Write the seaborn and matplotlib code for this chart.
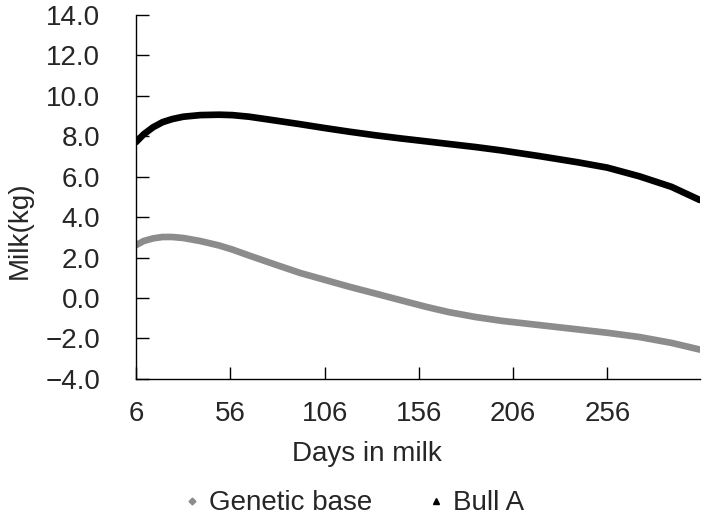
import numpy as np
import pandas as pd
import matplotlib
matplotlib.use("Agg")
import matplotlib.pyplot as plt
import seaborn as sns
from matplotlib.lines import Line2D

# values
days = [6, 10, 15, 20, 25, 31, 40, 50, 57, 66, 80, 93, 106, 119, 133, 146, 160, 172,
        186, 200, 220, 240, 256, 273, 290, 305]
genetic_base = [2.62, 2.82, 2.95, 3.02, 3.02, 2.97, 2.82, 2.6, 2.4, 2.1, 1.65, 1.24, 0.9,
                0.56, 0.22, -0.1, -0.44, -0.7, -0.94, -1.13, -1.34, -1.55, -1.72, -1.93,
                -2.22, -2.55]
bull_a = [7.72, 8.1, 8.45, 8.7, 8.85, 8.97, 9.05, 9.07, 9.05, 8.97, 8.78, 8.6, 8.41, 8.23,
          8.05, 7.9, 7.75, 7.62, 7.47, 7.3, 7.02, 6.72, 6.45, 6.02, 5.5, 4.85]
x_ticks = [6, 56, 106, 156, 206, 256]
y_ticks = np.arange(-4, 15, 2)

df = pd.DataFrame({"day": days, "Genetic base": genetic_base, "Bull A": bull_a})
long_df = df.melt(id_vars="day", var_name="series", value_name="milk")

sns.set_style("white", {"xtick.direction": "in", "ytick.direction": "in",
                        "xtick.bottom": True, "ytick.left": True})
plt.rcParams["font.family"] = ["Liberation Sans", "DejaVu Sans"]
plt.rcParams["xtick.direction"] = "in"
plt.rcParams["ytick.direction"] = "in"

fig = plt.figure(figsize=(7.09, 5.19), dpi=100)
ax = fig.add_axes([0.192, 0.27, 0.795, 0.701])

sns.lineplot(data=long_df, x="day", y="milk", hue="series",
             palette={"Genetic base": "#8c8c8c", "Bull A": "#000000"},
             linewidth=4.8, legend=False, ax=ax)

ax.set_xlim(6, 305)
ax.set_ylim(-4, 14)
ax.set_xticks(x_ticks)
ax.set_yticks(y_ticks)
ax.set_yticklabels([f"{v:.1f}".replace("-", "\u2212") for v in y_ticks])
ax.xaxis.set_tick_params(direction="in", length=9, width=1, color="black",
                         labelsize=20, bottom=True, pad=16)
ax.yaxis.set_tick_params(direction="in", length=9, width=1, color="black",
                         labelsize=20, left=True, pad=26)
for side in ["top", "right"]:
    ax.spines[side].set_visible(False)
for side in ["left", "bottom"]:
    ax.spines[side].set_color("black")
    ax.spines[side].set_linewidth(1)

ax.set_xlabel("Days in milk", fontsize=20)
ax.set_ylabel("Milk(kg)", fontsize=20)
ax.xaxis.set_label_coords(0.41, -0.17)
ax.yaxis.set_label_coords(-0.184, 0.41)

handles = [
    Line2D([], [], color="#8c8c8c", marker="D", markersize=3.5, linestyle="None"),
    Line2D([], [], color="black", marker="^", markersize=4, linestyle="None"),
]
fig.legend(handles, ["Genetic base", "Bull A"], loc="center", bbox_to_anchor=(0.497, 0.03),
           ncol=2, frameon=False, fontsize=20, handlelength=0.8, handletextpad=0.2,
           columnspacing=1.9)

fig.savefig("out.png", dpi=100)
